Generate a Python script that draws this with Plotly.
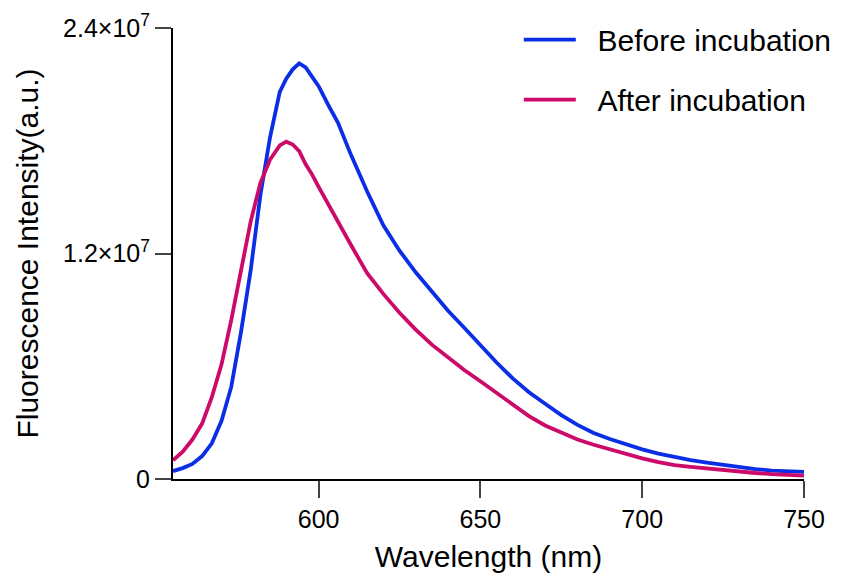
import plotly.graph_objects as go

wavelength = [555, 558, 561, 564, 567, 570, 573, 576, 579, 582, 585, 588, 590, 592, 594,
              596, 598, 600, 603, 606, 610, 615, 620, 625, 630, 635, 640, 645, 650, 655,
              660, 665, 670, 675, 680, 685, 690, 695, 700, 705, 710, 715, 720, 725, 730,
              735, 740, 745, 750]

# Fluorescence intensity, units of 1e6 a.u.
before_incubation = [0.42, 0.58, 0.80, 1.22, 1.90, 3.1, 4.9, 7.8, 11.1, 15.1, 18.2, 20.6, 21.3,
                     21.8, 22.12, 21.9, 21.4, 20.9, 19.9, 18.95, 17.25, 15.3, 13.5, 12.15, 11.0,
                     9.95, 8.95, 8.05, 7.1, 6.2, 5.35, 4.62, 4.0, 3.4, 2.88, 2.45, 2.13, 1.85,
                     1.58, 1.35, 1.15, 1.0, 0.87, 0.74, 0.63, 0.53, 0.45, 0.41, 0.38]
after_incubation = [1.0, 1.45, 2.1, 2.95, 4.35, 6.1, 8.45, 11.1, 13.7, 15.75, 17.0, 17.75, 17.95,
                    17.8, 17.45, 16.75, 16.2, 15.55, 14.6, 13.75, 12.45, 10.95, 9.85, 8.85, 7.95,
                    7.15, 6.45, 5.8, 5.2, 4.6, 3.95, 3.35, 2.85, 2.45, 2.1, 1.82, 1.58, 1.32,
                    1.1, 0.9, 0.74, 0.65, 0.56, 0.47, 0.39, 0.32, 0.26, 0.22, 0.18]

x_ticks = [600, 650, 700, 750]
y_ticks = [0, 1.2e7, 2.4e7]
y_ticktext = ["0", "1.2×10<sup>7</sup>", "2.4×10<sup>7</sup>"]

FONT = "Liberation Sans, Arial, sans-serif"
PAD = "\u00a0\u00a0"

fig = go.Figure()
fig.add_trace(go.Scatter(x=wavelength, y=[v * 1e6 for v in before_incubation],
                         mode="lines", name=PAD + "Before incubation", legendgroup="a",
                         line=dict(color="#0A2EE6", width=3.8)))
fig.add_trace(go.Scatter(x=wavelength, y=[v * 1e6 for v in after_incubation],
                         mode="lines", name=PAD + "After incubation", legendgroup="b",
                         line=dict(color="#CC0A69", width=3.8)))

fig.update_layout(
    width=841, height=581,
    margin=dict(l=165, r=45, t=20, b=110, autoexpand=False),
    plot_bgcolor="white", paper_bgcolor="white",
    font=dict(family=FONT, color="black", size=24),
    showlegend=True,
    legend=dict(x=0.548, y=1.032, xanchor="left", yanchor="top", itemwidth=52,
                font=dict(size=30, family=FONT), tracegroupgap=18,
                bgcolor="rgba(0,0,0,0)"),
    xaxis=dict(range=[555, 750], tickvals=x_ticks, ticks="outside", ticklen=17,
               tickwidth=2, showline=True, linewidth=2, linecolor="black",
               showgrid=False, zeroline=False, tickfont=dict(size=25), automargin=False,
               title=dict(text="Wavelength (nm)", font=dict(size=30), standoff=14)),
    yaxis=dict(range=[0, 2.4e7], tickvals=y_ticks, ticktext=y_ticktext, ticks="outside",
               ticklen=16, tickwidth=2, showline=True, linewidth=2, linecolor="black",
               showgrid=False, zeroline=False, tickfont=dict(size=25), automargin=False,
               title=dict(text="Fluorescence Intensity(a.u.)", font=dict(size=30), standoff=16)),
)

fig.write_html("out.html")
